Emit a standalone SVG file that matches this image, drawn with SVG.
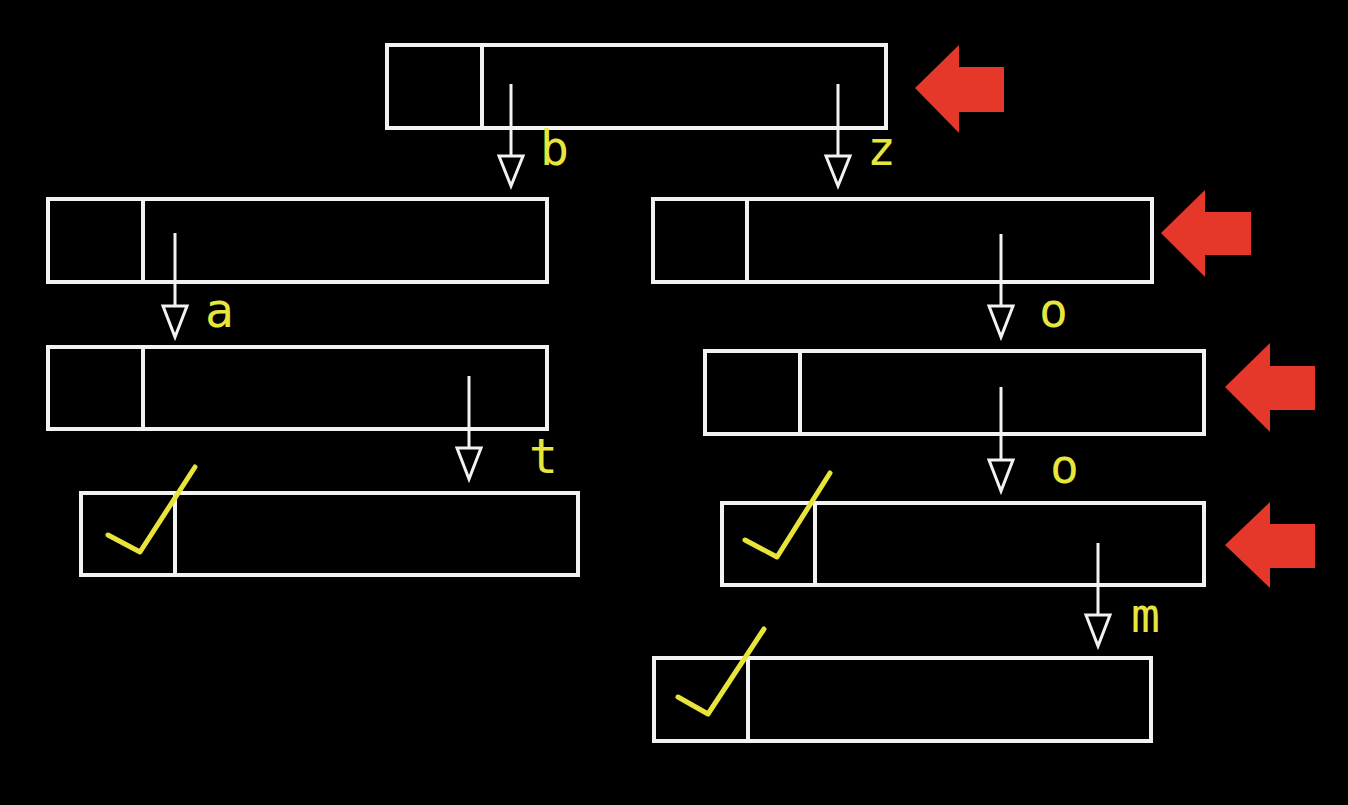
<svg xmlns="http://www.w3.org/2000/svg" width="1348" height="805" viewBox="0 0 1348 805">
<style>
.box{fill:#000;stroke:#f2f2f2;stroke-width:4}
.div{stroke:#f2f2f2;stroke-width:4}
.edge{stroke:#f2f2f2;stroke-width:3;fill:none}
.head{fill:#000;stroke:#f2f2f2;stroke-width:3;stroke-linejoin:miter}
.lbl{font-family:"DejaVu Sans Mono","Liberation Mono",monospace;font-size:48px;fill:#e6e63c}
.check{fill:none;stroke:#e8e43a;stroke-width:5;stroke-linecap:round;stroke-linejoin:round}
.ptr{fill:#e5382a}
</style>
<rect width="1348" height="805" fill="#000"/>

<g id="node-root">
<rect class="box" x="387" y="45" width="499" height="83"/>
<line class="div" x1="482" y1="45" x2="482" y2="128"/>
</g>
<g id="node-b">
<rect class="box" x="48" y="199" width="499" height="83"/>
<line class="div" x1="143" y1="199" x2="143" y2="282"/>
</g>
<g id="node-ba">
<rect class="box" x="48" y="347" width="499" height="82"/>
<line class="div" x1="143" y1="347" x2="143" y2="429"/>
</g>
<g id="node-bat">
<rect class="box" x="81" y="493" width="497" height="82"/>
<line class="div" x1="175" y1="493" x2="175" y2="575"/>
<polyline class="check" points="108,535 140,552 195,467"/>
</g>
<g id="node-z">
<rect class="box" x="653" y="199" width="499" height="83"/>
<line class="div" x1="747" y1="199" x2="747" y2="282"/>
</g>
<g id="node-zo">
<rect class="box" x="705" y="351" width="499" height="83"/>
<line class="div" x1="800" y1="351" x2="800" y2="434"/>
</g>
<g id="node-zoo">
<rect class="box" x="722" y="503" width="482" height="82"/>
<line class="div" x1="815" y1="503" x2="815" y2="585"/>
<polyline class="check" points="745,540 777,557 830,473"/>
</g>
<g id="node-zoom">
<rect class="box" x="654" y="658" width="497" height="83"/>
<line class="div" x1="748" y1="658" x2="748" y2="741"/>
<polyline class="check" points="678,697 708,714 764,629"/>
</g>

<g id="connectors">
<line class="edge" x1="511" y1="84" x2="511" y2="156"/>
<polygon class="head" points="499,156 523,156 511,186"/>
<text class="lbl" x="540" y="165">b</text>

<line class="edge" x1="838" y1="84" x2="838" y2="156"/>
<polygon class="head" points="826,156 850,156 838,186"/>
<text class="lbl" x="867" y="165">z</text>

<line class="edge" x1="175" y1="233" x2="175" y2="306"/>
<polygon class="head" points="163,306 187,306 175,337"/>
<text class="lbl" x="205" y="327">a</text>

<line class="edge" x1="469" y1="376" x2="469" y2="448"/>
<polygon class="head" points="457,448 481,448 469,479"/>
<text class="lbl" x="529" y="473">t</text>

<line class="edge" x1="1001" y1="234" x2="1001" y2="306"/>
<polygon class="head" points="989,306 1013,306 1001,337"/>
<text class="lbl" x="1039" y="327">o</text>

<line class="edge" x1="1001" y1="387" x2="1001" y2="460"/>
<polygon class="head" points="989,460 1013,460 1001,491"/>
<text class="lbl" x="1050" y="483">o</text>

<line class="edge" x1="1098" y1="543" x2="1098" y2="615"/>
<polygon class="head" points="1086,615 1110,615 1098,646"/>
<text class="lbl" x="1131" y="632">m</text>
</g>

<g id="pointers">
<polygon class="ptr" points="915,88 959,45 959,67 1004,67 1004,112 959,112 959,133"/>
<polygon class="ptr" points="1161,233 1205,190 1205,212 1251,212 1251,255 1205,255 1205,277"/>
<polygon class="ptr" points="1225,387 1270,343 1270,366 1315,366 1315,410 1270,410 1270,432"/>
<polygon class="ptr" points="1225,545 1270,502 1270,524 1315,524 1315,568 1270,568 1270,588"/>
</g>
</svg>
